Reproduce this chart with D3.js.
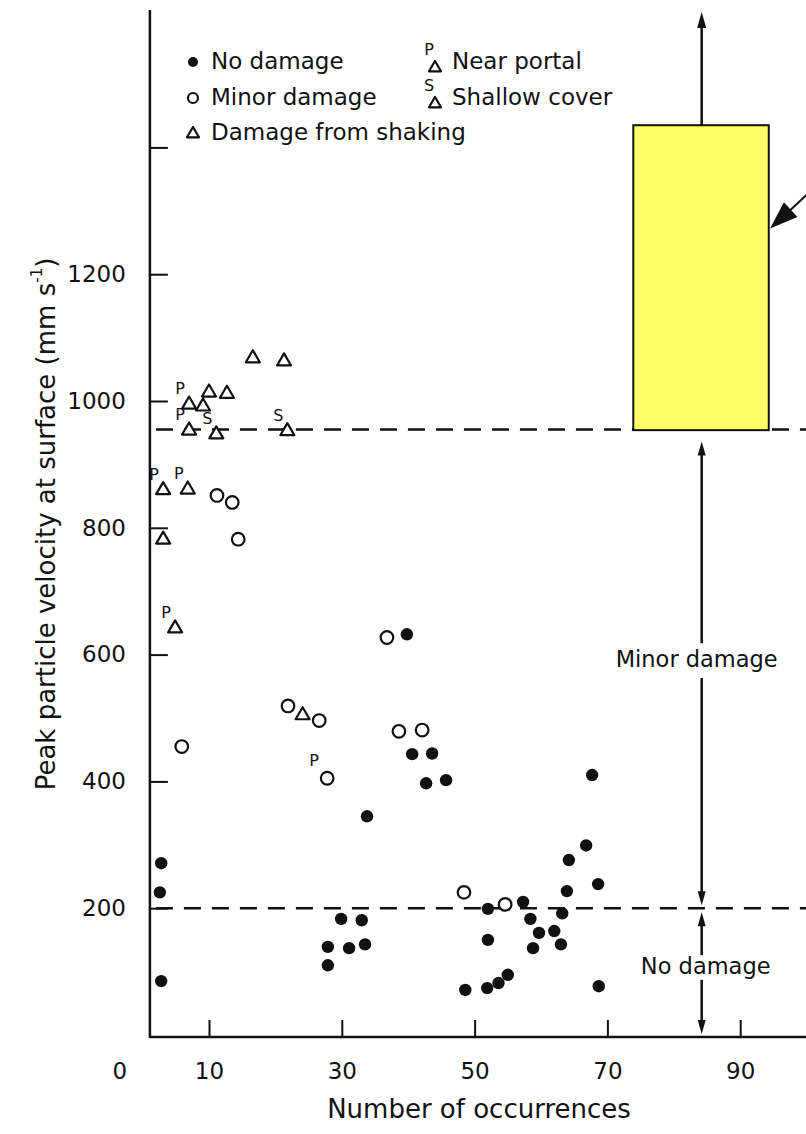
<!DOCTYPE html>
<html>
<head>
<meta charset="utf-8">
<script src="https://cdn.jsdelivr.net/npm/d3@7"></script>
<style>
  html, body { margin: 0; padding: 0; background: #fff; }
  svg { display: block; font-family: 'DejaVu Sans', sans-serif; }
</style>
</head>
<body>
<div id="chart"></div>
<script>
// Values: [number of occurrences, peak particle velocity (mm/s)]
const noDamage = [
  [2.8, 271], [2.6, 225], [2.8, 85], [33.8, 345], [39.8, 632], [40.6, 443],
  [43.6, 444], [42.7, 397], [45.7, 402], [29.9, 183], [33.0, 181], [27.9, 139],
  [31.1, 137], [33.5, 143], [27.9, 110], [67.7, 410], [66.8, 299], [64.2, 276],
  [63.9, 227], [68.6, 238], [52.0, 199], [57.3, 210], [58.4, 183], [63.2, 192],
  [59.7, 161], [62.0, 164], [58.8, 137], [63.0, 143], [52.0, 150], [55.0, 95],
  [53.6, 82], [51.9, 74], [48.6, 71], [68.7, 77]
];

const minorDamage = [
  [36.8, 627], [21.9, 519], [26.6, 496], [27.8, 405], [38.6, 479], [42.1, 481],
  [5.9, 455], [11.2, 851], [13.5, 840], [14.4, 782], [48.4, 225], [54.6, 206]
];
const minorTags = ['', '', '', 'P', '', '', '', '', '', '', '', ''];

const shaking = [
  [16.6, 1069], [21.3, 1064], [7.0, 996], [10.0, 1015], [12.7, 1013], [9.1, 993],
  [7.0, 955], [11.1, 949], [21.8, 954], [3.1, 861], [6.8, 862], [3.1, 783],
  [4.9, 643], [24.1, 506]
];
const shakingTags = ['', '', 'P', '', '', '', 'P', 'S', 'S', 'P', 'P', '', 'P', ''];

// damage thresholds (dashed lines)
const thresholds = [200, 955];

const yTicks = [200, 400, 600, 800, 1000, 1200, 1400];
const yTickLabels = ['200', '400', '600', '800', '1000', '1200', ''];
const xTicks = [10, 30, 50, 70, 90];
const xTickLabels = ['10', '30', '50', '70', '90'];

const legendLeft = ['No damage', 'Minor damage', 'Damage from shaking'];
const legendRight = [['P', 'Near portal'], ['S', 'Shallow cover']];
const zoneLabels = ['Minor damage', 'No damage'];

/** LAYOUT **/
const W = 806, H = 1134;
const ink = '#111';

const x = d3.scaleLinear().domain([0, 100]).range([142.6, 806.6]);
const y = d3.scaleLinear().domain([0, 1400]).range([1035, 1035 - 0.634 * 1400]);

const axisX = x(1.1);
const axisY = y(0) + 2;

const svg = d3.select('#chart').append('svg')
  .attr('width', W)
  .attr('height', H)
  .attr('viewBox', `0 0 ${W} ${H}`);

// marker helpers
function dot (g, cx, cy, r) {
  g.append('circle').attr('cx', cx).attr('cy', cy).attr('r', r).attr('fill', ink);
}
function ring (g, cx, cy, r) {
  g.append('circle').attr('cx', cx).attr('cy', cy).attr('r', r)
    .attr('fill', '#fff').attr('stroke', ink).attr('stroke-width', 2.2);
}
function tri (g, cx, cy, s) {
  g.append('path')
    .attr('d', `M${cx},${cy - s} L${cx + s},${cy + s * 0.72} L${cx - s},${cy + s * 0.72} Z`)
    .attr('fill', '#fff').attr('stroke', ink).attr('stroke-width', 2.2)
    .attr('stroke-linejoin', 'round');
}
function tag (g, cx, cy, t) {
  g.append('text').attr('x', cx).attr('y', cy)
    .attr('text-anchor', 'middle').attr('dominant-baseline', 'middle')
    .attr('font-size', 16).attr('fill', ink).text(t);
}
function arrowHead (g, tx, ty, dir, len, half) {
  // dir: +1 pointing down, -1 pointing up
  g.append('path')
    .attr('d', `M${tx},${ty} L${tx - half},${ty - dir * len} L${tx + half},${ty - dir * len} Z`)
    .attr('fill', ink);
}

/** AXES **/
svg.append('line')
  .attr('x1', axisX).attr('x2', axisX)
  .attr('y1', 10).attr('y2', axisY + 1)
  .attr('stroke', ink).attr('stroke-width', 2.5);
svg.append('line')
  .attr('x1', axisX).attr('x2', W)
  .attr('y1', axisY).attr('y2', axisY)
  .attr('stroke', ink).attr('stroke-width', 2.5);

const gy = svg.append('g')
  .attr('transform', `translate(${axisX},0)`)
  .call(d3.axisLeft(y)
    .tickValues(yTicks)
    .tickSize(-18)
    .tickPadding(24)
    .tickFormat((d, i) => yTickLabels[i]));
gy.select('.domain').remove();
gy.selectAll('line').attr('stroke', ink).attr('stroke-width', 2);
gy.selectAll('text').attr('fill', ink).attr('font-size', 23)
  .attr('font-family', 'DejaVu Sans, sans-serif');

const gx = svg.append('g')
  .attr('transform', `translate(0,${axisY})`)
  .call(d3.axisBottom(x)
    .tickValues(xTicks)
    .tickSize(-17)
    .tickPadding(26)
    .tickFormat((d, i) => xTickLabels[i]));
gx.select('.domain').remove();
gx.selectAll('line').attr('stroke', ink).attr('stroke-width', 2);
gx.selectAll('text').attr('fill', ink).attr('font-size', 23)
  .attr('font-family', 'DejaVu Sans, sans-serif');

// lone "0" at the corner
svg.append('text')
  .attr('x', axisX - 30).attr('y', axisY + 26)
  .attr('dy', '0.71em')
  .attr('text-anchor', 'middle')
  .attr('font-size', 23).attr('fill', ink).text('0');

// axis titles
svg.append('text')
  .attr('x', 479).attr('y', 1110)
  .attr('text-anchor', 'middle').attr('dominant-baseline', 'middle')
  .attr('font-size', 26).attr('fill', ink)
  .text('Number of occurrences');

const yt = svg.append('text')
  .attr('transform', 'translate(47,524) rotate(-90)')
  .attr('text-anchor', 'middle').attr('dominant-baseline', 'middle')
  .attr('font-size', 26).attr('fill', ink);
yt.append('tspan').text('Peak particle velocity at surface (mm s');
yt.append('tspan').attr('font-size', 15).attr('dy', -10).text('-1');
yt.append('tspan').attr('dy', 10).text(')');

/** THRESHOLD LINES **/
svg.selectAll('.thr')
  .data(thresholds)
  .enter().append('line')
  .attr('class', 'thr')
  .attr('x1', axisX + 6).attr('x2', W)
  .attr('y1', d => y(d)).attr('y2', d => y(d))
  .attr('stroke', ink).attr('stroke-width', 2.5)
  .attr('stroke-dasharray', '17 11');

/** POINTS **/
const pts = svg.append('g');
noDamage.forEach(d => dot(pts, x(d[0]), y(d[1]), 6.2));
minorDamage.forEach((d, i) => {
  ring(pts, x(d[0]), y(d[1]), 6.3);
  if (minorTags[i]) tag(pts, x(d[0]) - 13, y(d[1]) - 17, minorTags[i]);
});
shaking.forEach((d, i) => {
  tri(pts, x(d[0]), y(d[1]), 7);
  if (shakingTags[i]) tag(pts, x(d[0]) - 9, y(d[1]) - 14, shakingTags[i]);
});

/** LEGEND **/
const lg = svg.append('g');
const legY = [62, 98, 133];
dot(lg, 193, legY[0], 5);
ring(lg, 193, legY[1], 5);
tri(lg, 193, legY[2], 6);
legendLeft.forEach((t, i) => {
  lg.append('text').attr('x', 211).attr('y', legY[i])
    .attr('dominant-baseline', 'middle')
    .attr('font-size', 23).attr('fill', ink).text(t);
});
legendRight.forEach((d, i) => {
  const ly = legY[i];
  tri(lg, 435, ly + 5, 6);
  tag(lg, 429, ly - 12, d[0]);
  lg.append('text').attr('x', 452).attr('y', ly)
    .attr('dominant-baseline', 'middle')
    .attr('font-size', 23).attr('fill', ink).text(d[1]);
});

/** ZONE ANNOTATION (right side) **/
const zx = x(84.2);
const ann = svg.append('g');
const line = (y1, y2) => ann.append('line')
  .attr('x1', zx).attr('x2', zx).attr('y1', y1).attr('y2', y2)
  .attr('stroke', ink).attr('stroke-width', 2.5);

// top arrow, above box
line(y(1435), 22);
arrowHead(ann, zx, 12, -1, 16, 4.5);

// yellow box
ann.append('rect')
  .attr('x', x(73.9)).attr('y', y(1435))
  .attr('width', x(94.3) - x(73.9))
  .attr('height', y(954) - y(1435))
  .attr('fill', '#ffff66').attr('stroke', ink).attr('stroke-width', 2);

// pointer to the box
ann.append('line')
  .attr('x1', x(100.5)).attr('y1', y(1330))
  .attr('x2', x(95.8)).attr('y2', y(1284))
  .attr('stroke', ink).attr('stroke-width', 2);
ann.append('path')
  .attr('d', (() => {
    const tx = x(94.5), ty = y(1272);
    const ang = Math.atan2(y(1330) - ty, x(100.5) - tx);
    const L = 28, Hh = 10;
    const bx = tx + L * Math.cos(ang), by = ty + L * Math.sin(ang);
    const px = -Math.sin(ang) * Hh, py = Math.cos(ang) * Hh;
    return `M${tx},${ty} L${bx + px},${by + py} L${bx - px},${by - py} Z`;
  })())
  .attr('fill', ink);

// minor damage zone
const minTop = y(thresholds[1]) + 12;
const minBot = y(thresholds[0]) - 3;
arrowHead(ann, zx, minTop, -1, 14, 4);
line(minTop + 10, y(618));
line(y(563), minBot - 10);
arrowHead(ann, zx, minBot, 1, 14, 4);
ann.append('text')
  .attr('x', zx - 5).attr('y', y(591))
  .attr('text-anchor', 'middle').attr('dominant-baseline', 'middle')
  .attr('font-size', 22.5).attr('fill', ink).text(zoneLabels[0]);

// no damage zone
const noTop = y(thresholds[0]) + 4;
const noBot = axisY - 3;
arrowHead(ann, zx, noTop, -1, 14, 4);
line(noTop + 10, y(126));
line(y(87), noBot - 10);
arrowHead(ann, zx, noBot, 1, 14, 4);
ann.append('text')
  .attr('x', zx + 4).attr('y', y(107))
  .attr('text-anchor', 'middle').attr('dominant-baseline', 'middle')
  .attr('font-size', 22.5).attr('fill', ink).text(zoneLabels[1]);
</script>
</body>
</html>
